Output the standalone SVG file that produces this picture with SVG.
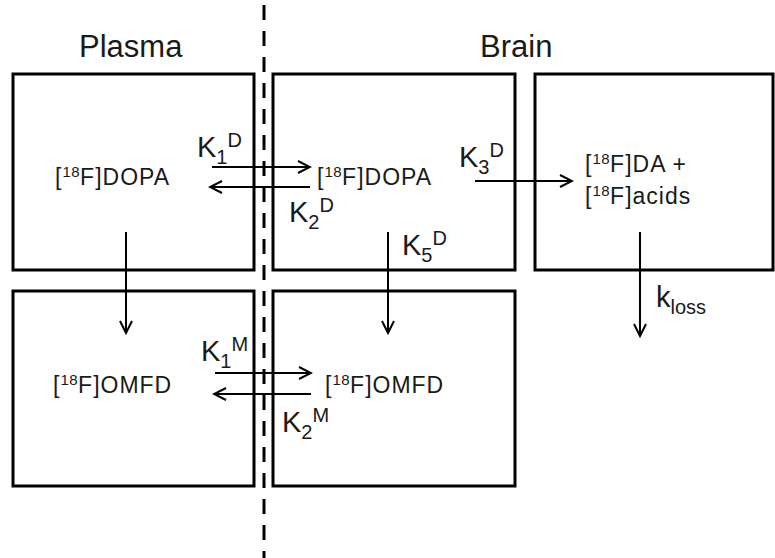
<svg xmlns="http://www.w3.org/2000/svg" width="775" height="558" viewBox="0 0 775 558">
<defs>
<marker id="arr" markerUnits="userSpaceOnUse" markerWidth="16" markerHeight="16" viewBox="0 0 16 16" refX="14" refY="8" orient="auto">
<path d="M2,2 L14,8 L2,14" fill="none" stroke="#000" stroke-width="2"/>
</marker>
<style>
.box{fill:none;stroke:#000;stroke-width:3}
.ln{stroke:#000;stroke-width:2;fill:none;marker-end:url(#arr)}
text{font-family:"Liberation Sans",Arial,sans-serif;fill:#1a1a1a}
.t{font-size:23px;letter-spacing:1px}
.sup{font-size:15px;letter-spacing:0.5px}
.title{font-size:31px}
.k{font-size:29px}
.ks{font-size:20px}
</style>
</defs>
<rect width="775" height="558" fill="#fff"/>
<line x1="264" y1="5" x2="264" y2="558" stroke="#000" stroke-width="3" stroke-dasharray="15 11"/>
<text class="title" x="79" y="57">Plasma</text>
<text class="title" x="480" y="57">Brain</text>
<g id="plasma-dopa">
<rect class="box" x="13" y="74" width="241" height="196"/>
<text class="t" x="55" y="185">[<tspan class="sup" dy="-8">18</tspan><tspan dy="8">F]DOPA</tspan></text>
</g>
<g id="brain-dopa">
<rect class="box" x="273" y="74" width="242" height="196"/>
<text class="t" x="317" y="185">[<tspan class="sup" dy="-8">18</tspan><tspan dy="8">F]DOPA</tspan></text>
</g>
<g id="brain-da">
<rect class="box" x="535" y="74" width="238" height="196"/>
<text class="t" x="585" y="172">[<tspan class="sup" dy="-8">18</tspan><tspan dy="8">F]DA +</tspan></text>
<text class="t" x="585" y="204">[<tspan class="sup" dy="-8">18</tspan><tspan dy="8">F]acids</tspan></text>
</g>
<g id="plasma-omfd">
<rect class="box" x="13" y="291" width="241" height="195"/>
<text class="t" x="53" y="393">[<tspan class="sup" dy="-8">18</tspan><tspan dy="8">F]OMFD</tspan></text>
</g>
<g id="brain-omfd">
<rect class="box" x="273" y="291" width="242" height="195"/>
<text class="t" x="325" y="393">[<tspan class="sup" dy="-8">18</tspan><tspan dy="8">F]OMFD</tspan></text>
</g>
<g id="connectors">
<line class="ln" x1="212" y1="167" x2="310" y2="167"/>
<line class="ln" x1="310" y1="187" x2="210" y2="187"/>
<line class="ln" x1="475" y1="181" x2="572" y2="181"/>
<line class="ln" x1="126" y1="232" x2="126" y2="333"/>
<line class="ln" x1="388" y1="232" x2="388" y2="333"/>
<line class="ln" x1="640" y1="232" x2="640" y2="336"/>
<line class="ln" x1="215" y1="373" x2="311" y2="373"/>
<line class="ln" x1="311" y1="394" x2="214" y2="394"/>
<text class="k" x="197" y="157">K<tspan class="ks" dy="7">1</tspan><tspan class="ks" dy="-17">D</tspan></text>
<text class="k" x="289" y="222">K<tspan class="ks" dy="7">2</tspan><tspan class="ks" dy="-17">D</tspan></text>
<text class="k" x="459" y="167">K<tspan class="ks" dy="7">3</tspan><tspan class="ks" dy="-17">D</tspan></text>
<text class="k" x="402" y="255">K<tspan class="ks" dy="7">5</tspan><tspan class="ks" dy="-17">D</tspan></text>
<text class="k" x="656" y="307">k<tspan class="ks" dy="7">loss</tspan></text>
<text class="k" x="201" y="361">K<tspan class="ks" dy="7">1</tspan><tspan class="ks" dy="-17">M</tspan></text>
<text class="k" x="282" y="432">K<tspan class="ks" dy="7">2</tspan><tspan class="ks" dy="-17">M</tspan></text>
</g>
</svg>
